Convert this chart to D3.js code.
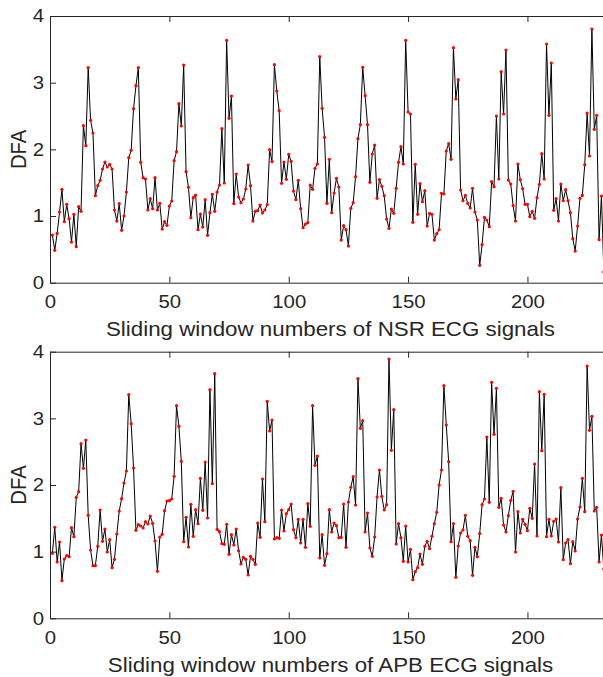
<!DOCTYPE html>
<html>
<head>
<meta charset="utf-8">
<script src="https://cdn.jsdelivr.net/npm/d3@7"></script>
<style>
  body { margin: 0; background: #fff; }
  svg { display: block; font-family: "Liberation Sans", Arial, sans-serif; }
</style>
</head>
<body>
<svg id="chart" width="603" height="677"></svg>
<script>
// DFA per sliding window, NSR record (windows 1..232)
const nsrDFA = [
  0.715, 0.485, 0.74, 1.06, 1.40, 0.915, 1.175, 0.96, 0.61, 1.025, 0.54, 1.14,
  1.07, 2.355, 2.055, 3.225, 2.435, 2.245, 1.305, 1.455, 1.535, 1.705, 1.81, 1.735,
  1.775, 1.705, 1.09, 0.925, 1.185, 0.785, 1.0, 1.36, 1.875, 1.985, 2.61, 2.955,
  3.225, 1.805, 1.575, 1.555, 1.09, 1.26, 1.11, 1.575, 1.09, 1.19, 0.805, 0.915,
  0.86, 1.15, 1.225, 1.83, 1.965, 2.685, 2.35, 3.265, 1.665, 1.43, 0.975, 1.275,
  1.315, 0.795, 1.03, 0.835, 1.245, 0.71, 1.05, 1.325, 1.07, 1.36, 1.465, 2.31,
  1.495, 3.635, 2.465, 2.80, 1.185, 1.63, 1.285, 1.20, 1.255, 1.405, 1.765, 1.455,
  0.925, 1.07, 1.08, 1.165, 1.045, 1.09, 1.17, 1.995, 1.815, 3.27, 2.875, 2.58,
  1.49, 1.81, 1.55, 1.925, 1.82, 1.375, 1.245, 1.535, 1.11, 0.825, 0.88, 0.90,
  1.465, 1.40, 1.715, 1.78, 3.39, 2.615, 2.18, 1.19, 1.85, 1.05, 1.345, 1.565,
  1.435, 0.64, 0.855, 0.795, 0.55, 1.115, 1.20, 1.59, 2.16, 2.37, 3.23, 2.805,
  2.37, 1.505, 1.93, 2.065, 1.265, 1.545, 1.445, 1.305, 0.955, 0.815, 1.105, 1.04,
  1.415, 1.805, 2.04, 1.78, 3.635, 2.56, 2.53, 0.905, 1.775, 1.025, 1.485, 1.215,
  1.38, 0.85, 1.04, 1.025, 0.64, 0.735, 0.795, 1.34, 1.33, 1.975, 2.085, 1.85,
  3.525, 2.755, 3.045, 1.39, 1.23, 1.31, 1.19, 1.12, 1.415, 1.06, 0.94, 0.26,
  0.57, 0.98, 0.94, 0.84, 1.515, 1.44, 2.50, 1.555, 3.165, 2.53, 3.49, 1.54,
  1.48, 1.155, 0.925, 1.78, 1.545, 1.41, 1.175, 1.175, 0.99, 1.07, 0.965, 1.275,
  1.475, 1.935, 1.555, 3.58, 2.51, 3.295, 1.085, 1.26, 0.925, 1.48, 1.23, 1.395,
  1.23, 1.05, 0.66, 0.475, 0.85, 1.265, 1.31, 1.77, 2.545, 1.90, 3.805, 2.30,
  2.51, 0.645, 1.30, 0.16
];

// DFA per sliding window, APB record (windows 1..232)
const apbDFA = [
  0.975, 1.365, 0.845, 1.145, 0.565, 0.89, 0.94, 0.925, 1.36, 1.225, 1.815, 1.90,
  2.62, 2.25, 2.675, 1.545, 1.025, 0.79, 0.79, 1.08, 1.625, 1.155, 1.34, 0.995,
  1.18, 0.76, 0.885, 1.265, 1.61, 1.795, 2.03, 2.21, 3.355, 2.92, 2.255, 1.32,
  1.405, 1.385, 1.355, 1.45, 1.415, 1.535, 1.425, 1.16, 0.705, 1.22, 1.26, 1.615,
  1.76, 1.765, 1.79, 2.13, 3.19, 2.88, 2.355, 1.15, 1.515, 1.07, 1.71, 1.23,
  1.63, 1.42, 2.10, 1.62, 2.345, 1.505, 3.43, 2.02, 3.67, 1.335, 1.30, 1.12,
  1.11, 1.41, 0.96, 1.255, 1.10, 1.34, 1.015, 0.815, 0.915, 0.885, 0.65, 0.93,
  0.885, 0.81, 1.43, 1.215, 2.09, 1.45, 3.255, 2.81, 2.975, 1.19, 1.21, 1.20,
  1.625, 1.31, 1.57, 1.63, 1.715, 1.33, 1.21, 1.485, 1.13, 1.485, 1.065, 1.72,
  1.38, 3.19, 2.295, 2.435, 0.905, 1.255, 0.795, 0.97, 1.63, 1.295, 1.43, 1.39,
  1.21, 1.215, 1.715, 1.065, 1.745, 1.965, 2.125, 1.70, 3.595, 2.85, 2.965, 1.295,
  1.58, 1.055, 0.93, 1.22, 1.82, 2.225, 1.83, 1.625, 1.705, 3.89, 2.52, 3.13,
  1.115, 1.42, 1.21, 0.855, 1.385, 0.845, 1.035, 0.58, 0.70, 0.76, 0.965, 0.81,
  1.08, 1.155, 1.045, 1.23, 1.42, 1.59, 2.00, 2.225, 3.49, 2.90, 2.35, 1.15,
  1.42, 0.615, 1.085, 1.28, 1.325, 1.545, 1.23, 1.165, 0.645, 1.065, 0.925, 1.27,
  1.705, 1.79, 2.72, 1.74, 3.54, 2.76, 3.45, 1.665, 1.80, 1.40, 1.295, 1.54,
  1.77, 1.905, 0.995, 1.60, 1.28, 1.485, 1.41, 1.315, 1.65, 1.50, 2.315, 1.235,
  3.40, 2.515, 3.36, 1.225, 1.485, 1.235, 1.455, 1.49, 1.145, 1.96, 0.88, 1.13,
  1.18, 0.82, 1.15, 1.01, 1.49, 1.67, 2.10, 1.60, 3.785, 2.82, 3.03, 1.61,
  1.665, 0.845, 1.25, 0.74
];

const xTicks = [0, 50, 100, 150, 200];
const yTicks = [0, 1, 2, 3, 4];
const xMax = 235, yMax = 4;
const yLabel = "DFA";
const xLabels = [
  "Sliding window numbers of NSR ECG signals",
  "Sliding window numbers of APB ECG signals"
];

const svg = d3.select("#chart");
const left = 50, right = 611;   // right edge of the axes is cut off by the picture
const axisColor = "#262626";
const stretch = 1.1;             // text in the picture is a bit wider than tall
const fmt = d3.format("d");

const panels = [
  { data: nsrDFA, top: 16, bottom: 282.7, label: xLabels[0] },
  { data: apbDFA, top: 351.7, bottom: 618.3, label: xLabels[1] }
];

panels.forEach(p => {
  const x = d3.scaleLinear().domain([0, xMax]).range([left, right]);
  const y = d3.scaleLinear().domain([0, yMax]).range([p.bottom, p.top]);

  const g = svg.append("g").attr("color", axisColor);

  // bottom axis with labels, ticks pointing in
  const gx = g.append("g")
    .attr("transform", `translate(0,${p.bottom})`)
    .call(d3.axisBottom(x).tickValues(xTicks).tickFormat(fmt)
      .tickSizeInner(-6).tickSizeOuter(0).tickPadding(12.3));
  gx.selectAll("text")
    .attr("font-size", "18.5px")
    .attr("font-family", "Liberation Sans, Arial, sans-serif")
    .attr("transform", `scale(${stretch},1)`);

  // top border
  g.append("g")
    .attr("transform", `translate(0,${p.top})`)
    .call(d3.axisTop(x).tickValues(xTicks).tickSizeInner(-6).tickSizeOuter(0).tickFormat(""));

  // left axis
  const gy = g.append("g")
    .attr("transform", `translate(${left},0)`)
    .call(d3.axisLeft(y).tickValues(yTicks).tickFormat(fmt)
      .tickSizeInner(-6).tickSizeOuter(0).tickPadding(6));
  gy.selectAll("text")
    .attr("font-size", "18.5px")
    .attr("font-family", "Liberation Sans, Arial, sans-serif")
    .attr("x", -6 / stretch)
    .attr("transform", `scale(${stretch},1)`);

  // right border (falls outside the picture)
  g.append("g")
    .attr("transform", `translate(${right},0)`)
    .call(d3.axisRight(y).tickValues(yTicks).tickSizeInner(-6).tickSizeOuter(0).tickFormat(""));

  g.selectAll(".domain").attr("stroke-width", 1);

  // series line
  const line = d3.line()
    .x((d, i) => x(i + 1))
    .y(d => y(d));

  svg.append("path")
    .datum(p.data)
    .attr("fill", "none")
    .attr("stroke", "#000")
    .attr("stroke-width", 1)
    .attr("d", line);

  // red markers
  svg.append("g")
    .selectAll("circle")
    .data(p.data)
    .enter().append("circle")
    .attr("cx", (d, i) => x(i + 1))
    .attr("cy", d => y(d))
    .attr("r", 1.6)
    .attr("fill", "#ff0000");

  // axis labels
  svg.append("text")
    .attr("transform", `translate(${(left + right) / 2},${p.bottom + 53.3}) scale(${stretch},1)`)
    .attr("text-anchor", "middle")
    .attr("font-size", "20.3px")
    .attr("fill", axisColor)
    .text(p.label);

  svg.append("text")
    .attr("transform", `translate(26,${(p.top + p.bottom) / 2}) scale(${stretch},1) rotate(-90)`)
    .attr("text-anchor", "middle")
    .attr("font-size", "20.3px")
    .attr("fill", axisColor)
    .text(yLabel);
});
</script>
</body>
</html>
